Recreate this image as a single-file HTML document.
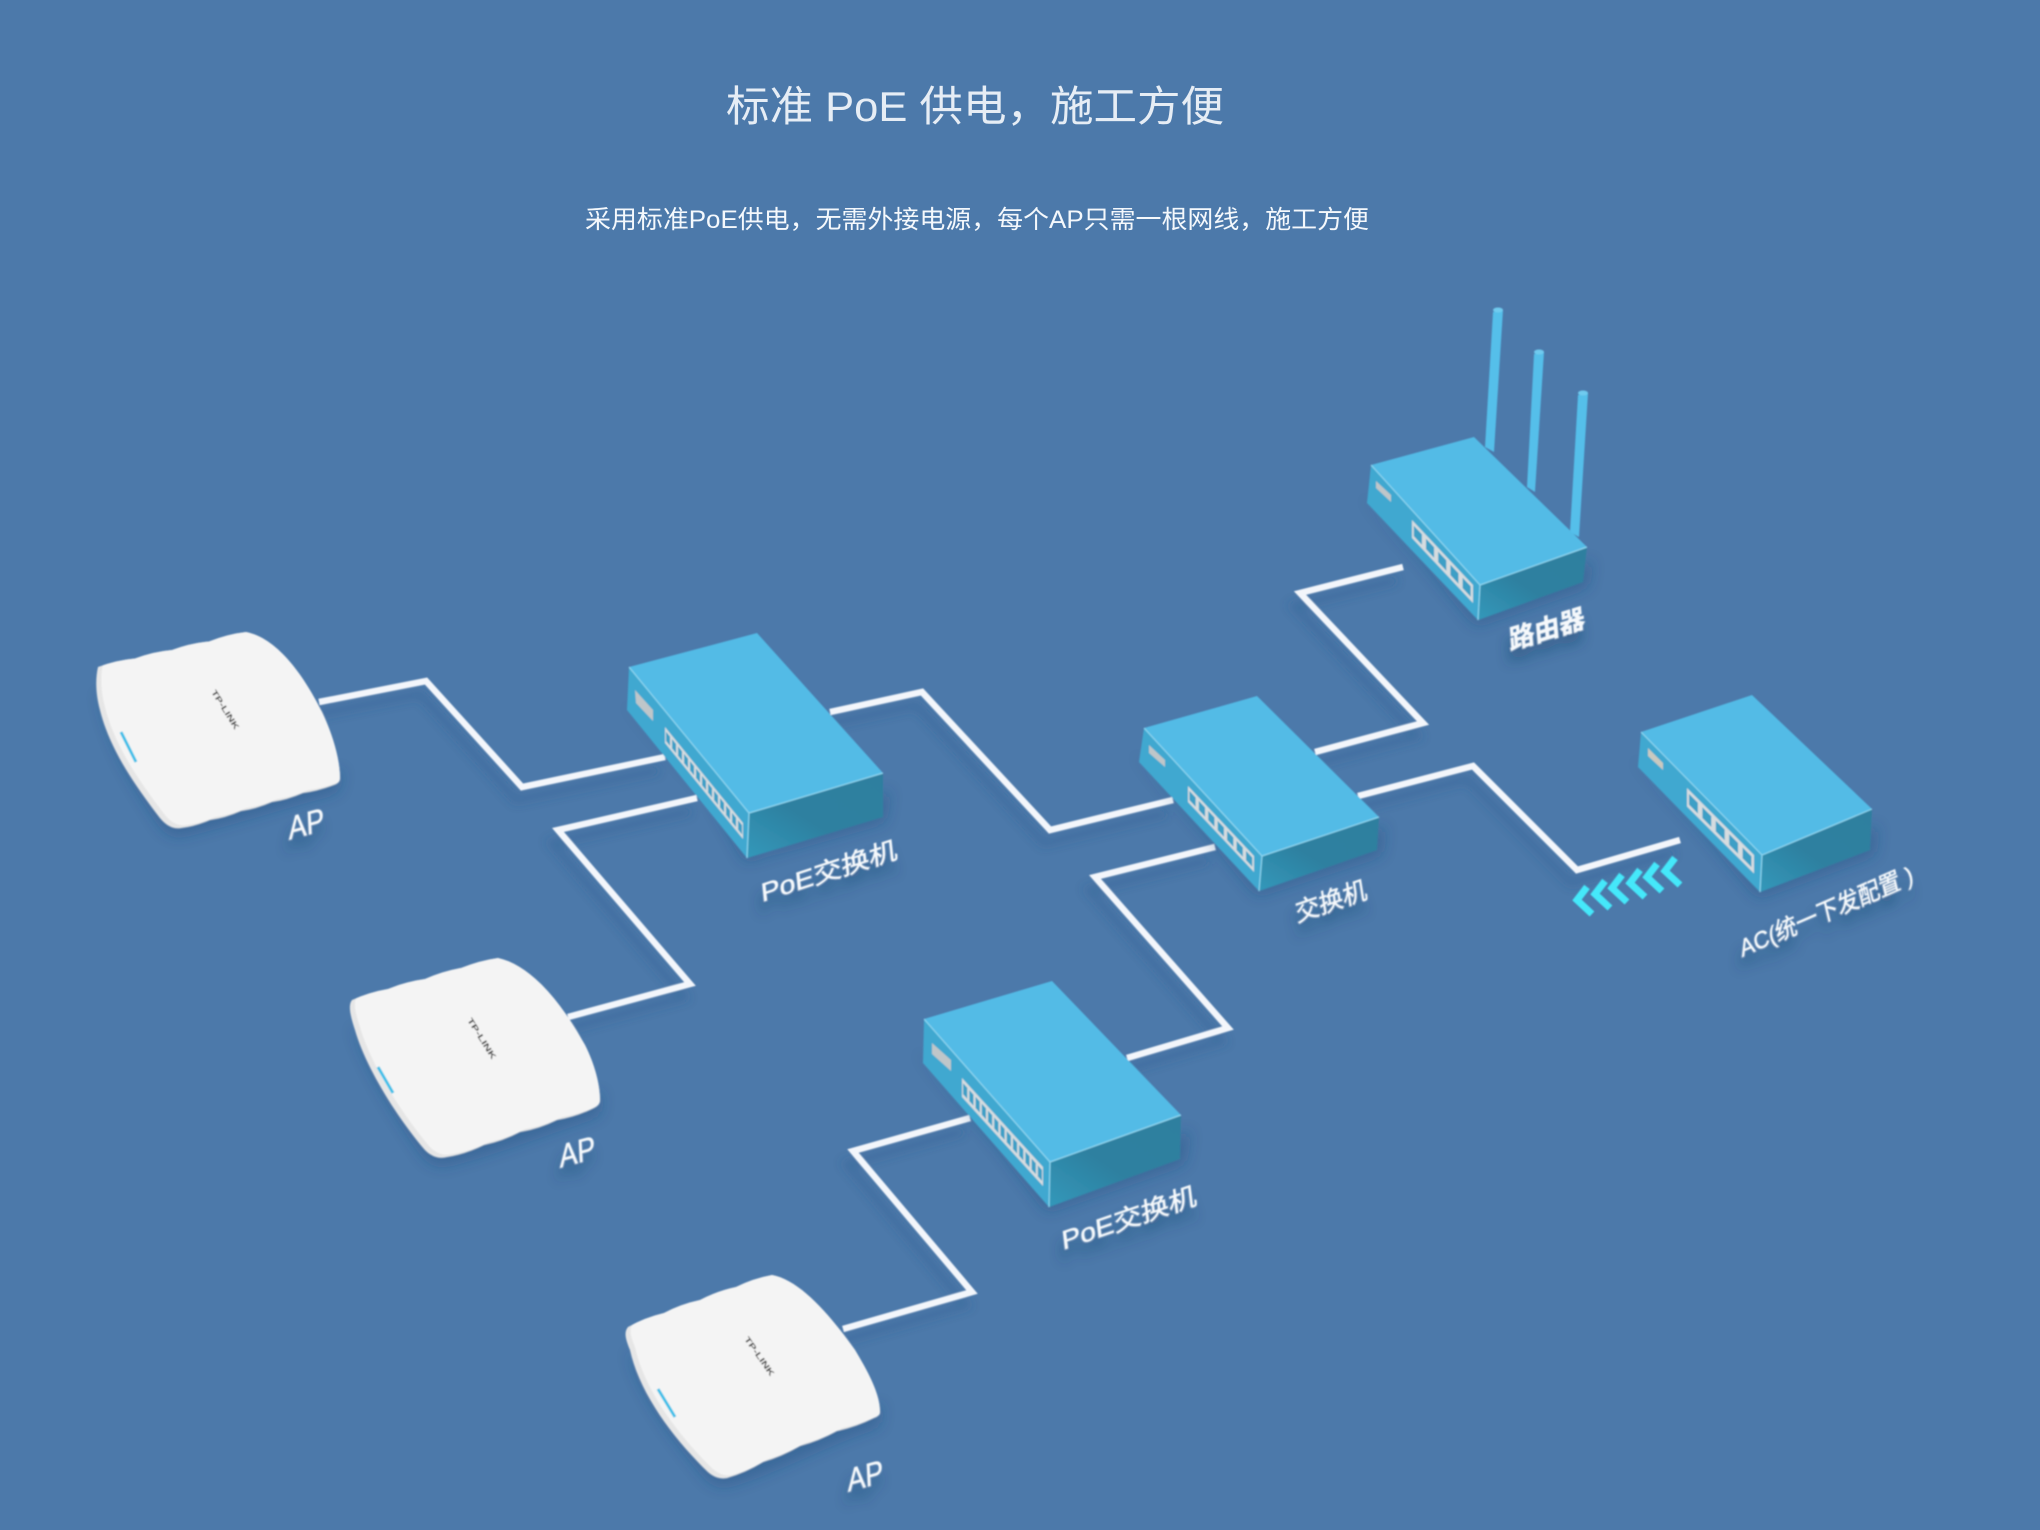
<!DOCTYPE html>
<html lang="zh">
<head>
<meta charset="utf-8">
<title>标准 PoE 供电，施工方便</title>
<style>
html,body{margin:0;padding:0;background:#4c79aa;width:2040px;height:1530px;overflow:hidden}
svg{display:block}
</style>
</head>
<body>
<svg xmlns="http://www.w3.org/2000/svg" width="2040" height="1530" viewBox="0 0 2040 1530">
<defs>
<filter id="b6" x="-30%" y="-30%" width="160%" height="160%"><feGaussianBlur stdDeviation="7"/></filter>
<filter id="b4" x="-20%" y="-20%" width="140%" height="140%"><feGaussianBlur stdDeviation="5"/></filter>
<filter id="soft" x="-2%" y="-2%" width="104%" height="104%"><feGaussianBlur stdDeviation="0.7"/></filter>
<filter id="ts" x="-40%" y="-80%" width="180%" height="300%"><feDropShadow dx="-2" dy="12" stdDeviation="6" flood-color="#1f3f66" flood-opacity="0.45"/></filter>
<linearGradient id="fr" x1="1" y1="0" x2="0" y2="1"><stop offset="0" stop-color="#2d7f9f"/><stop offset="0.55" stop-color="#2d80a0"/><stop offset="1" stop-color="#3298ba"/></linearGradient>
<clipPath id="c1"><path d="M98 667 Q117 660 135 658.5 Q154 651.5 172 650 Q191 643 209 641.5 Q228 634 246 632 C276 638 302 672 322 712 C333 735 340 760 340 778 Q340 783 334 785 Q318 791 303 793 Q287 800 272 802 Q256 809 241 811 Q225 818 210 820 Q195 826.5 181 828 Q170 830 160 818 C135 785 110 750 100 710 C96 695 95 680 98 667 Z"/></clipPath>
<clipPath id="c2"><path d="M352 1000 Q370 992 388 989 Q406 981.5 425 979 Q443 971 461 968 Q480 960.5 498 958 C530 965 560 1000 585 1045 C595 1065 600 1085 600 1100 Q600 1105 594 1108 Q576 1117 557 1120 Q539 1129 520 1132 Q503 1141 484 1145 Q466 1154 447 1157 Q435 1160 425 1150 C395 1115 365 1065 355 1030 C350 1015 348 1005 352 1000 Z"/></clipPath>
<clipPath id="c3"><path d="M628 1327 Q645 1317.5 664 1313 Q681 1304 700 1300 Q717 1291 736 1287 Q753 1278.5 772 1275 C800 1280 830 1315 855 1350 C870 1375 880 1395 880 1412 Q880 1416 874 1418 Q856 1427 837 1431 Q819 1441 800 1446 Q782 1456.5 763 1462 Q746 1472.5 727 1478 Q717 1480 708 1472 C675 1440 640 1395 630 1350 C625 1338 624 1332 628 1327 Z"/></clipPath>
</defs>

<rect width="2040" height="1530" fill="#4c79aa"/>

<text x="975" y="121" text-anchor="middle" font-family="'Liberation Sans','Noto Sans CJK SC',sans-serif" font-size="42" fill="#e6edf5" textLength="498" lengthAdjust="spacingAndGlyphs">标准 PoE 供电，施工方便</text>
<text x="977" y="228" text-anchor="middle" font-family="'Liberation Sans','Noto Sans CJK SC',sans-serif" font-size="25" fill="#f4f8fc" textLength="784" lengthAdjust="spacingAndGlyphs">采用标准PoE供电，无需外接电源，每个AP只需一根网线，施工方便</text>

<g filter="url(#soft)">
<!-- wire shadows -->
<g fill="none" stroke="#2c5a8c" stroke-width="8" opacity="0.32" filter="url(#b4)" transform="translate(-6,13)">
<polyline points="319,702 426,681 522,787 665,757"/>
<polyline points="697,798 558,830 690,984 568,1017"/>
<polyline points="830,712 922,692 1050,830 1173,800"/>
<polyline points="1215,847 1095,877 1228,1028 1127,1058"/>
<polyline points="970,1118 853,1151 972,1292 843,1329"/>
<polyline points="1403,567 1300,593 1423,723 1315,752"/>
<polyline points="1358,796 1473,766 1577,870 1680,840"/>
</g>
<!-- wires -->
<g fill="none" stroke="#f3f6fb" stroke-width="6.5" stroke-linejoin="miter">
<polyline points="319,702 426,681 522,787 665,757"/>
<polyline points="697,798 558,830 690,984 568,1017"/>
<polyline points="830,712 922,692 1050,830 1173,800"/>
<polyline points="1215,847 1095,877 1228,1028 1127,1058"/>
<polyline points="970,1118 853,1151 972,1292 843,1329"/>
<polyline points="1403,567 1300,593 1423,723 1315,752"/>
<polyline points="1358,796 1473,766 1577,870 1680,840"/>
</g>

<!-- device shadows -->
<g fill="#24507f" opacity="0.38" filter="url(#b6)">
<polygon points="620,700 700,780 745,862 885,822 890,790 760,850"/>
<polygon points="915,1050 1000,1150 1047,1212 1185,1164 1190,1130 1060,1195"/>
<polygon points="1132,752 1210,840 1257,896 1382,855 1385,825 1262,880"/>
<polygon points="1360,495 1420,560 1476,626 1588,587 1592,560 1480,610"/>
<polygon points="1631,757 1700,830 1758,898 1875,855 1878,825 1762,880"/>
<path d="M98 690 C110 750 135 785 160 825 Q170 838 181 836 C232 823 285 806 338 792 L343 770 L178 815 Z"/>
<path d="M352 1025 C365 1065 395 1115 425 1158 Q435 1168 447 1165 C495 1153 545 1133 600 1115 L602 1092 L440 1145 Z"/>
<path d="M628 1350 C640 1395 675 1440 708 1480 Q717 1488 727 1486 C775 1473 825 1443 880 1426 L882 1404 L720 1465 Z"/>
</g>

<!-- Switch 1 (PoE) -->
<polygon points="629,667 749,813 747,858 627,710" fill="#3fa8d0"/>
<polygon points="749,813 883,773 883,817 747,858" fill="url(#fr)"/>
<polygon points="629,667 757,633 883,773 749,813" fill="#52bbe6"/>
<polyline points="629,667 749,813 883,773" fill="none" stroke="#8ed5ef" stroke-width="1.2"/>
<line x1="749" y1="813" x2="747" y2="858" stroke="#8ed5ef" stroke-width="1.2"/>
<polygon points="635,690 653,710 653,721 636,703" fill="#bfc6c9"/>
<g transform="matrix(6 7.385 0 16 665 727)">
<rect width="13" height="1" fill="#d6dcdf"/>
<line x1="0.18" y1="0.5" x2="12.9" y2="0.5" stroke="#3c9fc6" stroke-width="0.58" stroke-dasharray="0.66 0.34"/>
</g>

<!-- Switch 2 (PoE lower) -->
<polygon points="924,1019 1050,1162 1049,1207 923,1063" fill="#3fa8d0"/>
<polygon points="1050,1162 1181,1115 1180,1159 1049,1207" fill="url(#fr)"/>
<polygon points="924,1019 1052,981 1181,1115 1050,1162" fill="#52bbe6"/>
<polyline points="924,1019 1050,1162 1181,1115" fill="none" stroke="#8ed5ef" stroke-width="1.2"/>
<line x1="1050" y1="1162" x2="1049" y2="1207" stroke="#8ed5ef" stroke-width="1.2"/>
<polygon points="932,1043 951,1060 951,1071 932,1054" fill="#bfc6c9"/>
<g transform="matrix(6.23 6.85 0 19 962 1078)">
<rect width="13" height="1" fill="#d6dcdf"/>
<line x1="0.18" y1="0.5" x2="12.9" y2="0.5" stroke="#3c9fc6" stroke-width="0.58" stroke-dasharray="0.66 0.34"/>
</g>

<!-- Switch 3 -->
<polygon points="1144,728 1262,856 1259,891 1139,762" fill="#3fa8d0"/>
<polygon points="1262,856 1379,817 1377,850 1259,891" fill="url(#fr)"/>
<polygon points="1144,728 1257,696 1379,817 1262,856" fill="#52bbe6"/>
<polyline points="1144,728 1262,856 1379,817" fill="none" stroke="#8ed5ef" stroke-width="1.2"/>
<line x1="1262" y1="856" x2="1259" y2="891" stroke="#8ed5ef" stroke-width="1.2"/>
<polygon points="1149,745 1165,760 1165,767 1149,753" fill="#bfc6c9"/>
<g transform="matrix(9.43 10 0 16 1188 786)">
<rect width="7" height="1" fill="#d6dcdf"/>
<line x1="0.15" y1="0.5" x2="6.9" y2="0.5" stroke="#3c9fc6" stroke-width="0.58" stroke-dasharray="0.66 0.34"/>
</g>

<!-- Antennas -->
<g>
<polygon points="1493,312 1503,310 1494,452 1485,447" fill="#55bfea"/>
<polygon points="1534,354 1544,352 1535,492 1527,487" fill="#55bfea"/>
<polygon points="1578,395 1588,393 1579,537 1570,532" fill="#55bfea"/>
<ellipse cx="1498" cy="310" rx="5" ry="2.5" fill="#6fcbef"/>
<ellipse cx="1539" cy="352" rx="5" ry="2.5" fill="#6fcbef"/>
<ellipse cx="1583" cy="393" rx="5" ry="2.5" fill="#6fcbef"/>
</g>

<!-- Router -->
<polygon points="1371,465 1480,585 1478,620 1367,503" fill="#3fa8d0"/>
<polygon points="1480,585 1587,547 1583,582 1478,620" fill="url(#fr)"/>
<polygon points="1371,465 1474,437 1587,547 1480,585" fill="#52bbe6"/>
<polyline points="1371,465 1480,585 1587,547" fill="none" stroke="#8ed5ef" stroke-width="1.2"/>
<line x1="1480" y1="585" x2="1478" y2="620" stroke="#8ed5ef" stroke-width="1.2"/>
<polygon points="1376,481 1391,495 1391,502 1376,488" fill="#bfc6c9"/>
<g transform="matrix(12.2 13 0 18 1412 520)">
<rect width="5" height="1" fill="#d6dcdf"/>
<line x1="0.15" y1="0.5" x2="4.9" y2="0.5" stroke="#3c9fc6" stroke-width="0.58" stroke-dasharray="0.66 0.34"/>
</g>

<!-- AC -->
<polygon points="1641,732 1762,855 1760,892 1638,767" fill="#3fa8d0"/>
<polygon points="1762,855 1872,809 1870,850 1760,892" fill="url(#fr)"/>
<polygon points="1641,732 1752,695 1872,809 1762,855" fill="#52bbe6"/>
<polyline points="1641,732 1762,855 1872,809" fill="none" stroke="#8ed5ef" stroke-width="1.2"/>
<line x1="1762" y1="855" x2="1760" y2="892" stroke="#8ed5ef" stroke-width="1.2"/>
<polygon points="1648,748 1663,763 1663,770 1648,756" fill="#c9c9bf"/>
<g transform="matrix(13.4 13.4 0 18.5 1687 788)">
<rect width="5" height="1" fill="#d6dcdf"/>
<line x1="0.15" y1="0.5" x2="4.9" y2="0.5" stroke="#3c9fc6" stroke-width="0.58" stroke-dasharray="0.66 0.34"/>
</g>

<!-- Chevrons -->
<g fill="none" stroke="#45e8fa" stroke-width="7">
<polyline points="1675,858 1665,871 1680,885"/>
<polyline points="1657,864 1647,877 1662,891"/>
<polyline points="1640,870 1630,883 1645,897"/>
<polyline points="1622,875 1612,888 1627,902"/>
<polyline points="1605,881 1595,894 1610,908"/>
<polyline points="1587,887 1577,900 1592,914"/>
</g>

<!-- AP 1 -->
<path d="M98 667 Q117 660 135 658.5 Q154 651.5 172 650 Q191 643 209 641.5 Q228 634 246 632 C276 638 302 672 322 712 C333 735 340 760 340 778 Q340 783 334 785 Q318 791 303 793 Q287 800 272 802 Q256 809 241 811 Q225 818 210 820 Q195 826.5 181 828 Q170 830 160 818 C135 785 110 750 100 710 C96 695 95 680 98 667 Z" fill="#e6e6e6"/>
<g clip-path="url(#c1)"><path transform="translate(5,-3)" d="M98 667 Q117 660 135 658.5 Q154 651.5 172 650 Q191 643 209 641.5 Q228 634 246 632 C276 638 302 672 322 712 C333 735 340 760 340 778 Q340 783 334 785 Q318 791 303 793 Q287 800 272 802 Q256 809 241 811 Q225 818 210 820 Q195 826.5 181 828 Q170 830 160 818 C135 785 110 750 100 710 C96 695 95 680 98 667 Z" fill="#f4f4f4"/></g>
<line x1="121" y1="732" x2="136" y2="762" stroke="#3cc0e8" stroke-width="3"/>
<text transform="translate(211,692) rotate(58)" font-family="'Liberation Sans',sans-serif" font-size="8" font-weight="700" fill="#333" textLength="45" lengthAdjust="spacingAndGlyphs">TP-LINK</text>

<!-- AP 2 -->
<path d="M352 1000 Q370 992 388 989 Q406 981.5 425 979 Q443 971 461 968 Q480 960.5 498 958 C530 965 560 1000 585 1045 C595 1065 600 1085 600 1100 Q600 1105 594 1108 Q576 1117 557 1120 Q539 1129 520 1132 Q503 1141 484 1145 Q466 1154 447 1157 Q435 1160 425 1150 C395 1115 365 1065 355 1030 C350 1015 348 1005 352 1000 Z" fill="#e6e6e6"/>
<g clip-path="url(#c2)"><path transform="translate(5,-3)" d="M352 1000 Q370 992 388 989 Q406 981.5 425 979 Q443 971 461 968 Q480 960.5 498 958 C530 965 560 1000 585 1045 C595 1065 600 1085 600 1100 Q600 1105 594 1108 Q576 1117 557 1120 Q539 1129 520 1132 Q503 1141 484 1145 Q466 1154 447 1157 Q435 1160 425 1150 C395 1115 365 1065 355 1030 C350 1015 348 1005 352 1000 Z" fill="#f4f4f4"/></g>
<line x1="378" y1="1067" x2="393" y2="1093" stroke="#3cc0e8" stroke-width="3"/>
<text transform="translate(467,1020) rotate(58)" font-family="'Liberation Sans',sans-serif" font-size="8" font-weight="700" fill="#333" textLength="47" lengthAdjust="spacingAndGlyphs">TP-LINK</text>

<!-- AP 3 -->
<path d="M628 1327 Q645 1317.5 664 1313 Q681 1304 700 1300 Q717 1291 736 1287 Q753 1278.5 772 1275 C800 1280 830 1315 855 1350 C870 1375 880 1395 880 1412 Q880 1416 874 1418 Q856 1427 837 1431 Q819 1441 800 1446 Q782 1456.5 763 1462 Q746 1472.5 727 1478 Q717 1480 708 1472 C675 1440 640 1395 630 1350 C625 1338 624 1332 628 1327 Z" fill="#e6e6e6"/>
<g clip-path="url(#c3)"><path transform="translate(5,-3)" d="M628 1327 Q645 1317.5 664 1313 Q681 1304 700 1300 Q717 1291 736 1287 Q753 1278.5 772 1275 C800 1280 830 1315 855 1350 C870 1375 880 1395 880 1412 Q880 1416 874 1418 Q856 1427 837 1431 Q819 1441 800 1446 Q782 1456.5 763 1462 Q746 1472.5 727 1478 Q717 1480 708 1472 C675 1440 640 1395 630 1350 C625 1338 624 1332 628 1327 Z" fill="#f4f4f4"/></g>
<line x1="658" y1="1389" x2="675" y2="1417" stroke="#3cc0e8" stroke-width="3"/>
<text transform="translate(744,1339) rotate(55)" font-family="'Liberation Sans',sans-serif" font-size="8" font-weight="700" fill="#333" textLength="46" lengthAdjust="spacingAndGlyphs">TP-LINK</text>

<!-- Labels -->
<g font-family="'Liberation Sans','Noto Sans CJK SC',sans-serif" fill="#f6f9fc" stroke="#f6f9fc" stroke-width="0.5" filter="url(#ts)">
<text transform="translate(762,902) rotate(-18) skewX(-12)" font-size="25" textLength="143" lengthAdjust="spacingAndGlyphs">PoE交换机</text>
<text transform="translate(1063,1250) rotate(-19) skewX(-12)" font-size="25" textLength="142" lengthAdjust="spacingAndGlyphs">PoE交换机</text>
<text transform="translate(1297,922) rotate(-19) skewX(-10)" font-size="25" textLength="75" lengthAdjust="spacingAndGlyphs">交换机</text>
<text transform="translate(1510,650) rotate(-17) skewX(-12)" font-size="26" font-weight="700" textLength="79" lengthAdjust="spacingAndGlyphs">路由器</text>
<text transform="translate(1742,957) rotate(-23.5) skewX(-10)" font-size="24" textLength="188" lengthAdjust="spacingAndGlyphs">AC(统一下发配置 )</text>
<text transform="translate(289,840) rotate(-15) skewX(-12)" font-size="32" textLength="37" lengthAdjust="spacingAndGlyphs">AP</text>
<text transform="translate(560,1168) rotate(-15) skewX(-12)" font-size="32" textLength="37" lengthAdjust="spacingAndGlyphs">AP</text>
<text transform="translate(848,1492) rotate(-15) skewX(-12)" font-size="32" textLength="37" lengthAdjust="spacingAndGlyphs">AP</text>
</g>
</g>
</svg>
</body>
</html>
